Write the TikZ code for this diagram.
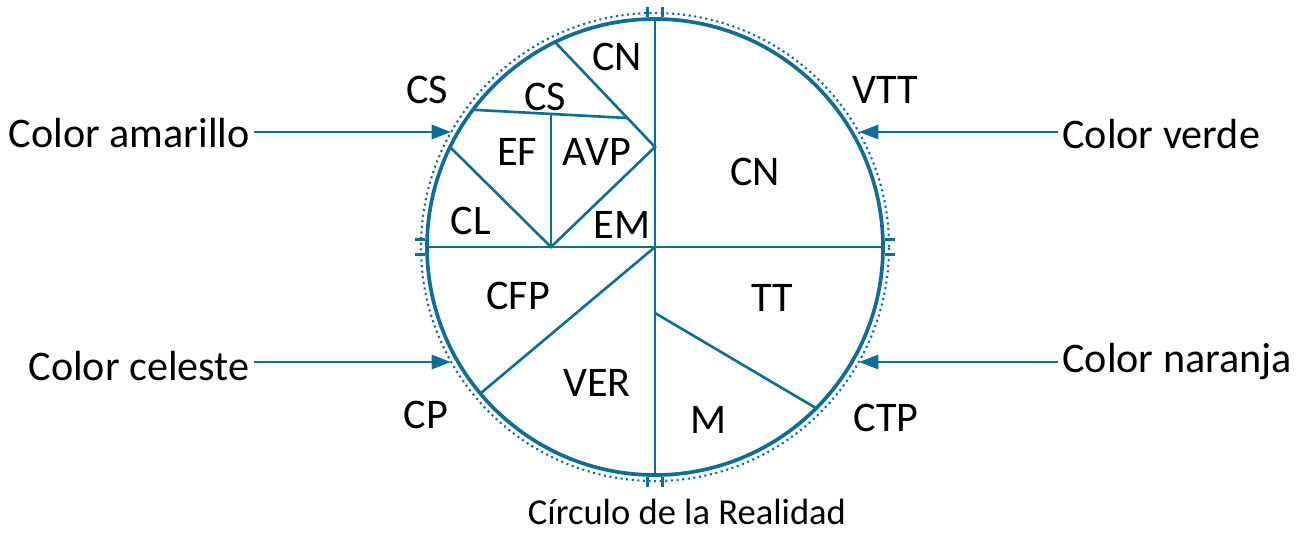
\documentclass[tikz,border=0pt]{standalone}
\usepackage{fontspec}
\setmainfont{Carlito}
\usetikzlibrary{arrows.meta,calc}
\definecolor{rblue}{RGB}{16,110,150}
\tikzset{rim/.style={rblue,line width=2.1pt},
  cut/.style={rblue,line width=1.5pt},
  pointer/.style={rblue,line width=1.6pt,-{Triangle[length=11pt,width=8pt]}},
  lbl/.style={inner sep=0pt,font=\fontsize{24}{28}\selectfont}}
\begin{document}
\begin{tikzpicture}[x=0.02cm,y=0.02cm]
  \useasboundingbox (-655,-285) rectangle (647,247);
  \coordinate (O) at (0,0); \coordinate (N) at (90:228);
  \coordinate (S) at (270:228); \coordinate (W) at (180:228);
  \coordinate (E) at (0:228);
  % the circle, its dotted rim and the small ticks
  \draw[rim] (O) circle (228);
  \draw[rblue,line width=1.2pt,dotted] (O) circle (234);
  \foreach \a in {0,90,180,270}
    \draw[cut,rotate=\a] (230,-7.5) -- (240,-7.5) (230,7.5) -- (240,7.5);
  % the cuts
  \draw[cut] (N) -- (S) (W) -- (E);
  \coordinate (m) at (-104,0); \coordinate (apex) at (0,100);
  \coordinate (k) at ($(apex)!0.2764!(116:228)$);
  \draw[cut] (0,-66) -- (-45:228); \draw[cut] (O) -- (220:228);
  \draw[cut] (154:228) -- (m) -- (apex) -- (116:228);
  \draw[cut] (143:228) -- (k); \draw[cut] (m) -- (-104,133);
  % inside
  \node[lbl] (cnA) at (-38,190) {CN}; \node[lbl] (csA) at (-110,150) {CS};
  \node[lbl] (ef) at (-138,95) {EF}; \node[lbl] (avp) at (-58,95) {AVP};
  \node[lbl] (cl) at (-184,26) {CL}; \node[lbl] (em) at (-33,22) {EM};
  \node[lbl] (cnB) at (100,75) {CN}; \node[lbl] (tt) at (117,-51) {TT};
  \node[lbl] (cfp) at (-137,-49) {CFP}; \node[lbl] (ver) at (-58,-136) {VER};
  \node[lbl] (mm) at (54,-173) {M};
  % outside
  \node[lbl] (csB) at (-228,157) {CS}; \node[lbl] (vtt) at (230,157) {VTT};
  \node[lbl] (cp) at (-229,-168) {CP}; \node[lbl] (ctp) at (231,-171) {CTP};
  \node[lbl,anchor=base east] (amarillo) at (-405,100) {Color amarillo};
  \node[lbl,anchor=base west] (verde) at (407,99) {Color verde};
  \node[lbl,anchor=base east] (celeste) at (-405,-133) {Color celeste};
  \node[lbl,anchor=base west] (naranja) at (407,-125) {Color naranja};
  \coordinate (tA) at (-204,115); \coordinate (tV) at (204,115);
  \coordinate (tC) at (-204,-115); \coordinate (tN) at (204,-115);
  \draw[pointer] ([xshift=2pt]amarillo.east |- tA) -- (tA);
  \draw[pointer] ([xshift=-2pt]verde.west |- tV) -- (tV);
  \draw[pointer] ([xshift=2pt]celeste.east |- tC) -- (tC);
  \draw[pointer] ([xshift=-2pt]naranja.west |- tN) -- (tN);
  \node[lbl,font=\fontsize{20.8}{24}\selectfont,anchor=base] (title) at (32,-277)
    {Círculo de la Realidad};
\end{tikzpicture}
\end{document}
